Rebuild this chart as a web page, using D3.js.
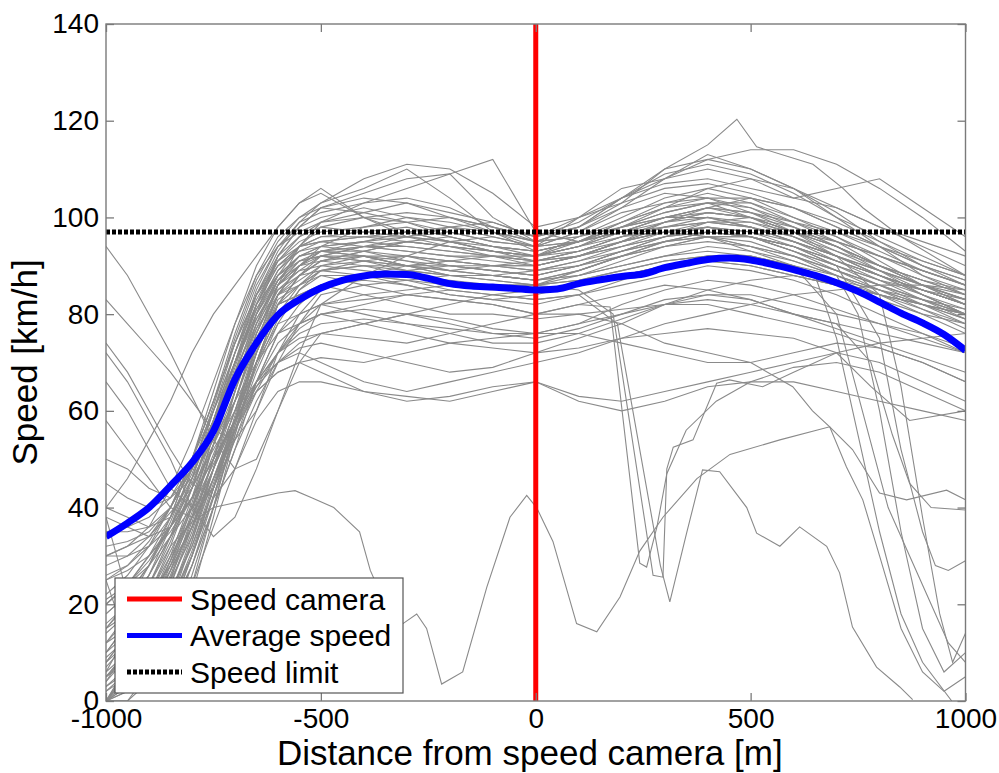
<!DOCTYPE html>
<html><head><meta charset="utf-8">
<script src="https://cdn.jsdelivr.net/npm/d3@7"></script>
<style>
body{margin:0;background:#fff}
svg{display:block}
text{font-family:Arial,"Liberation Sans",sans-serif;fill:#000}
</style></head>
<body><svg id="chart" width="999" height="773"></svg>
<script>
// ---------------- DATA ----------------
const distanceGrid = [-1000,-950,-900,-850,-800,-750,-700,-650,-600,-550,-500,-400,-300,-200,-100,0,100,200,300,400,500,600,700,800,900,1000];

const vehicleSpeeds = [
 [5,10,18,28,40,55,70,84,93,99,103,106,110,104,97,94,97,102,108,113,110,106,100,94,88,84],
 [0,3,10,20,33,48,64,80,92,98,102,105,108,109,100,95,98,103,110,112,110,106,102,98,94,90],
 [10,16,24,34,46,60,74,86,94,98,100,102,100,98,96,94,100,106,108,110,108,104,102,98,95,92],
 [20,24,30,38,50,64,78,90,98,103,105,100,97,95,93,92,96,100,104,106,104,100,96,91,86,82],
 [0,0,6,16,28,42,58,74,86,94,99,103,104,102,98,96,100,104,107,108,106,104,106,108,102,96],
 [30,32,36,44,54,66,78,88,94,97,99,101,103,100,97,93,95,99,103,105,103,99,95,90,86,83],
 [15,20,28,38,50,62,74,84,92,96,98,97,96,98,99,96,98,102,105,104,101,97,94,90,87,84],
 [3,7,14,24,36,50,64,78,88,94,98,100,99,97,95,94,97,101,103,104,102,98,94,89,84,80],
 [25,28,33,40,50,62,76,88,96,100,102,101,99,96,94,92,95,98,102,106,108,106,101,95,90,87],
 [8,14,22,32,44,58,72,85,94,99,101,103,106,109,112,97,95,97,100,102,100,97,92,88,85,82],
 [0,5,12,22,34,48,62,76,86,91,93,94,93,92,91,90,92,95,98,100,99,96,92,88,84,80],
 [12,18,26,36,48,60,72,82,88,91,92,92,91,90,89,88,90,93,96,98,97,94,90,86,82,78],
 [35,36,38,42,50,62,74,84,90,93,94,95,94,93,92,91,93,96,99,101,100,97,93,89,85,82],
 [5,9,15,24,35,48,60,72,82,88,91,93,95,94,93,92,94,97,99,100,98,95,91,87,83,79],
 [18,22,28,36,46,58,70,80,87,90,92,91,89,88,88,87,89,92,95,97,96,93,89,85,81,77],
 [0,2,8,18,30,44,58,72,84,90,93,92,90,89,90,91,93,96,97,96,94,92,89,86,83,80],
 [40,38,36,38,46,58,72,84,91,94,95,96,97,95,93,92,94,98,101,103,102,99,96,92,88,85],
 [22,26,32,40,50,60,70,79,86,90,91,90,88,86,85,86,89,92,94,95,94,91,88,84,80,76],
 [8,12,20,30,42,56,70,82,90,94,96,97,98,96,94,93,95,97,100,102,101,99,97,94,91,88],
 [2,6,13,22,33,46,58,70,80,86,89,90,90,89,88,87,88,90,92,94,93,91,88,85,82,79],
 [28,30,34,40,48,58,68,78,85,89,90,89,88,87,86,86,88,91,94,96,96,94,91,88,85,82],
 [14,18,24,33,44,57,70,82,90,94,95,94,93,92,92,91,92,94,96,97,96,93,90,87,85,83],
 [0,0,4,14,26,40,56,70,82,88,92,94,96,95,93,91,92,95,99,102,104,102,98,94,90,86],
 [45,42,40,42,48,58,70,81,88,92,93,92,90,88,87,86,87,89,91,92,91,89,86,83,80,78],
 [6,10,17,26,37,50,64,77,87,92,94,95,96,97,95,94,95,97,98,99,98,96,93,90,87,85],
 [32,33,35,40,48,58,70,80,88,92,93,93,92,90,89,88,90,93,96,99,100,98,94,90,86,82],
 [10,14,20,28,38,48,58,66,72,75,76,75,74,76,78,80,82,84,86,85,83,80,78,76,74,72],
 [20,24,30,36,44,52,60,66,70,72,70,66,64,66,68,70,72,75,78,80,82,84,85,86,86,85],
 [0,4,10,18,28,40,52,62,70,74,76,78,80,79,77,76,78,82,85,87,86,84,81,78,75,72],
 [38,36,34,36,42,50,58,65,70,73,74,72,70,68,69,72,75,78,82,85,87,88,86,84,82,80],
 [15,18,22,28,36,46,56,64,68,70,68,64,63,62,64,66,63,62,64,66,68,70,72,74,75,76],
 [5,8,14,22,32,44,56,66,74,78,80,81,80,78,76,75,77,80,83,84,83,80,77,74,71,68],
 [25,27,30,35,42,50,58,64,68,70,71,70,72,74,75,76,76,74,72,70,70,72,74,73,70,66],
 [0,2,6,14,24,36,48,58,64,66,66,64,62,63,65,66,62,60,62,65,66,66,64,62,60,58],
 [50,48,44,42,46,54,62,70,76,80,82,83,84,83,82,80,80,81,82,82,80,78,76,73,70,66],
 [12,15,20,27,36,46,56,65,72,77,80,82,84,85,84,83,84,86,88,90,89,87,84,80,76,72],
 [30,30,32,36,42,50,58,66,72,76,78,79,78,76,74,74,76,79,82,84,84,82,80,78,76,73],
 [3,6,12,20,30,42,54,64,72,78,82,84,85,86,86,85,86,88,90,92,92,90,88,85,82,79],
 [94,88,80,72,63,54,48,50,60,72,82,88,92,95,96,94,95,98,100,100,98,95,92,88,84,80],
 [83,78,73,68,62,56,54,60,70,78,84,86,87,88,88,87,88,90,92,93,92,90,87,84,81,78],
 [74,68,60,52,45,42,48,60,72,80,85,88,90,91,90,89,91,93,95,96,95,92,89,86,83,80],
 [66,60,52,44,40,44,54,66,76,82,86,88,89,90,90,89,90,92,94,96,96,94,91,88,85,82],
 [58,52,46,40,38,44,56,68,78,85,89,91,92,91,90,90,92,95,97,98,96,93,90,87,84,81],
 [72,66,58,50,40,34,38,48,60,70,76,78,80,82,84,85,86,88,90,91,90,88,86,84,82,80],
 [40,46,54,62,72,80,86,92,98,103,106,100,96,94,93,92,94,97,100,102,101,98,95,92,89,86],
 [0,6,14,25,38,53,68,82,92,98,102,104,103,101,99,96,98,104,109,111,109,105,100,96,92,88],
 [18,22,28,37,48,61,75,87,95,100,103,108,111,110,105,98,100,103,106,107,105,102,98,94,90,87],
 [7,12,19,29,41,55,69,82,91,96,99,100,101,100,98,96,99,104,108,112,114,114,111,106,100,93],
 [4,9,17,27,39,53,67,80,89,94,96,96,95,94,93,92,94,96,99,101,100,97,94,90,86,83],
 [26,28,32,38,47,58,70,81,89,93,95,96,96,95,94,93,95,98,101,103,103,100,97,93,89,86],
 [0,3,9,18,30,44,59,73,84,90,93,95,97,98,97,95,96,98,100,101,100,97,94,90,87,84],
 [16,20,26,34,44,56,68,79,87,91,92,91,90,91,92,92,93,95,97,98,97,95,92,89,86,84],
 [9,13,20,29,40,53,66,78,87,92,94,93,91,89,88,89,91,94,97,99,99,97,95,92,89,86],
 [35,35,36,40,48,60,72,83,91,95,97,98,99,100,98,95,96,99,102,104,104,102,99,95,91,88],
 [2,5,11,20,31,44,57,69,79,85,88,88,87,86,86,86,87,89,91,92,91,89,87,85,83,81],
 [21,24,29,36,45,56,67,77,84,88,89,88,86,84,83,84,86,88,90,91,90,88,86,84,82,80],
 [38,22,8,10,22,38,55,70,82,88,91,92,92,91,90,90,92,94,96,97,96,94,91,88,85,82],
 [25,12,4,10,24,40,57,72,84,90,93,94,94,93,92,91,93,96,98,99,98,95,92,89,86,83]
];

// irregular vehicles, each with its own distance samples
const outlierDistances = [
 [-1000,-950,-900,-850,-800,-750,-700,-650,-600,-560,-520,-470,-410,-385,-350,-309,-277,-254,-219,-170,-114,-60,-21,2,40,95,142,196,242,296,375,452,568,684,737,800,863,956,1000],
 [-1000,-900,-800,-700,-650,-600,-500,-400,-300,-200,-100,0,100,173,242,258,282,305,350,420,500,600,700,800,900,1000],
 [-1000,-900,-800,-700,-650,-600,-500,-400,-300,-200,-100,0,100,180,273,296,305,320,366,421,451,528,600,700,800,900,1000],
 [-1000,-900,-800,-700,-650,-600,-500,-400,-300,-200,-100,0,100,190,290,312,351,388,428,491,514,568,614,677,707,737,793,847,877],
 [-1000,-900,-800,-700,-650,-600,-500,-400,-300,-200,-100,0,100,200,300,400,500,598,644,684,723,761,800,850,900,950,1000],
 [-1000,-900,-800,-700,-650,-600,-500,-400,-300,-200,-100,0,100,200,300,400,500,600,650,700,750,800,850,900,968],
 [-1000,-900,-800,-700,-650,-600,-500,-400,-300,-200,-100,0,100,200,300,400,500,600,700,750,800,850,900,950,1000],
 [-1000,-900,-800,-700,-650,-600,-500,-400,-300,-200,-100,0,100,200,300,400,500,600,700,800,850,900,940,970,1000],
 [-1000,-900,-800,-700,-650,-600,-500,-400,-300,-200,-100,0,100,200,300,400,500,600,700,800,850,900,930,960,1000],
 [-1000,-900,-800,-700,-650,-600,-500,-400,-300,-200,-100,0,100,200,300,400,500,600,700,760,820,870,920,960,1000],
 [-1000,-900,-800,-700,-650,-600,-500,-400,-300,-200,-100,0,100,200,300,400,500,600,700,780,830,870,920,1000],
 [-1000,-900,-800,-700,-650,-600,-500,-400,-300,-200,-100,0,100,200,300,400,500,600,700,780,870,1000],
 [-1000,-900,-800,-700,-650,-600,-500,-400,-300,-200,-100,0,100,200,300,400,468,514,645,715,761,850,1000]
];
const outlierSpeeds = [
 [6,14,24,32,37,40,41,42,43,43.5,42,40,35,27,20,16,18,15,3.5,6,23.5,38,42.5,40,33,16,14.3,21.5,31,38,46,51,54,56.7,52,43,41.6,43.6,41.6],
 [10,22,40,62,75,84,88,86,84,83,82,80,82,81.5,28.5,27.7,36,47,56,62,66,69,70,68,64,60],
 [0,15,36,60,74,84,90,92,90,88,87,86,85,80,26,25.6,48,52.5,54,65.7,66.4,65,68,72,70,66,62],
 [20,28,40,58,70,80,86,88,87,85,84,83,84,78,28,20.5,34.7,47.8,47.4,40,34.7,32,36,32,26.5,15.3,7,2.9,0.3],
 [4,18,36,60,72,82,86,84,82,80,80,79,80,78,74,72,70,65,60,56.7,48.4,41.6,30,15,6,2,5],
 [8,20,38,62,76,86,92,94,95,94,92,90,92,95,97,96,93,90,88,75,55,35,18,8,0],
 [0,12,30,55,70,82,90,91,90,90,89,88,90,93,95,96,94,92,88,80,60,35,15,6,10],
 [15,26,42,64,76,85,91,93,95,96,94,93,95,99,102,103,100,96,92,84,65,38,18,8,14],
 [5,16,34,58,72,83,89,90,89,88,88,87,89,92,95,97,96,94,90,75,52,35,28,27,29],
 [30,34,44,62,74,82,86,87,86,84,83,82,84,87,90,92,92,90,80,60,40,30,20,12,8],
 [12,22,38,58,70,78,82,80,78,77,76,76,78,80,82,83,82,80,78,70,55,45,40,39.5],
 [0,10,28,52,66,76,80,78,76,74,73,72,73,75,76,77,76,75,72,65,58,60],
 [0,14,32,58,74,86,94,98,100,99,97,95,98,104,110,115,120.3,114.6,111,106,102,96,88]
];

const avgDistance = [-1000,-950,-900,-850,-800,-750,-700,-650,-600,-550,-500,-450,-400,-350,-300,-250,-200,-150,-100,-50,0,50,100,150,200,250,300,350,400,450,500,550,600,650,700,750,800,850,900,950,1000];
const avgSpeed = [34,36.8,40,44.5,49.3,55.8,66.5,74,79.8,83,85.4,87,87.9,88.3,88.2,87.4,86.3,85.8,85.6,85.3,85,85.2,86.3,87.1,87.8,88.3,89.6,90.5,91.3,91.6,91.2,90.3,89.2,88,86.5,84.7,82.5,80.2,78.2,75.8,72.5];

const speedLimit = 97;
const cameraPosition = 0;
const xTicks = [-1000,-500,0,500,1000];
const yTicks = [0,20,40,60,80,100,120,140];
const legendLabels = ["Speed camera","Average speed","Speed limit"];
const xTitle = "Distance from speed camera [m]";
const yTitle = "Speed [km/h]";

// ---------------- DRAW ----------------
const svg = d3.select("#chart");
const L = 106, R = 965.5, T = 24, B = 701;
const x = d3.scaleLinear().domain([-1000,1000]).range([L,R]);
const y = d3.scaleLinear().domain([0,140]).range([B,T]);

svg.append("defs").append("clipPath").attr("id","plotclip")
  .append("rect").attr("x",L).attr("y",T).attr("width",R-L).attr("height",B-T);

const g = svg.append("g").attr("clip-path","url(#plotclip)");
const line = d3.line().x(d=>x(d[0])).y(d=>y(d[1]));

const gray = "#8a8a8a";
vehicleSpeeds.forEach(vs=>{
  g.append("path").attr("d", line(distanceGrid.map((d,i)=>[d,vs[i]])))
   .attr("fill","none").attr("stroke",gray).attr("stroke-width",1.1);
});
outlierDistances.forEach((xs,k)=>{
  g.append("path").attr("d", line(xs.map((d,i)=>[d,outlierSpeeds[k][i]])))
   .attr("fill","none").attr("stroke",gray).attr("stroke-width",1.1);
});

// camera line
g.append("line").attr("x1",x(cameraPosition)).attr("x2",x(cameraPosition))
 .attr("y1",y(0)).attr("y2",y(140)).attr("stroke","#ff0000").attr("stroke-width",5);

// average
const avgLine = d3.line().x(d=>x(d[0])).y(d=>y(d[1])).curve(d3.curveMonotoneX);
g.append("path").attr("d", avgLine(avgDistance.map((d,i)=>[d,avgSpeed[i]])))
 .attr("fill","none").attr("stroke","#0000ff").attr("stroke-width",7);

// speed limit
g.append("line").attr("x1",x(-1000)).attr("x2",x(1000))
 .attr("y1",y(speedLimit)).attr("y2",y(speedLimit))
 .attr("stroke","#000").attr("stroke-width",5).attr("stroke-dasharray","4,2");

// axes
const axisColor = "#7a7a7a";
const fmt = d => String(d);
const xAxis = svg.append("g").attr("transform",`translate(0,${B})`)
  .call(d3.axisBottom(x).tickValues(xTicks).tickSizeInner(-8).tickSizeOuter(0).tickPadding(7).tickFormat(fmt));
const yAxis = svg.append("g").attr("transform",`translate(${L},0)`)
  .call(d3.axisLeft(y).tickValues(yTicks).tickSizeInner(-8).tickSizeOuter(0).tickPadding(7).tickFormat(fmt));
const xTop = svg.append("g").attr("transform",`translate(0,${T})`)
  .call(d3.axisTop(x).tickValues(xTicks).tickSizeInner(-8).tickSizeOuter(0).tickFormat(""));
const yRight = svg.append("g").attr("transform",`translate(${R},0)`)
  .call(d3.axisRight(y).tickValues(yTicks).tickSizeInner(-8).tickSizeOuter(0).tickFormat(""));
[xAxis,yAxis,xTop,yRight].forEach(a=>{
  a.select(".domain").remove();
  a.selectAll(".tick line").attr("stroke",axisColor).attr("stroke-width",1.3);
  a.selectAll(".tick text").attr("font-size",28).attr("fill","#000")
   .attr("font-family",'Arial,"Liberation Sans",sans-serif');
});
svg.append("rect").attr("x",L).attr("y",T).attr("width",R-L).attr("height",B-T)
  .attr("fill","none").attr("stroke",axisColor).attr("stroke-width",1.4);

// titles
svg.append("text").attr("x",(L+R)/2 - 6).attr("y",765).attr("text-anchor","middle")
  .attr("font-size",35).text(xTitle);
svg.append("text").attr("transform",`translate(37,${(T+B)/2}) rotate(-90)`)
  .attr("text-anchor","middle").attr("font-size",35).text(yTitle);

// legend
const lg = svg.append("g");
lg.append("rect").attr("x",115).attr("y",578).attr("width",288).attr("height",115)
  .attr("fill","#fff").attr("stroke","#555").attr("stroke-width",1.2);
const legStyles = [
  {c:"#ff0000",w:5,dash:null},
  {c:"#0000ff",w:5,dash:null},
  {c:"#000",w:5,dash:"4,2"}
];
legendLabels.forEach((t,i)=>{
  const yy = 599 + i*36.5;
  const ln = lg.append("line").attr("x1",127).attr("x2",182).attr("y1",yy).attr("y2",yy)
    .attr("stroke",legStyles[i].c).attr("stroke-width",legStyles[i].w);
  if(legStyles[i].dash) ln.attr("stroke-dasharray",legStyles[i].dash);
  lg.append("text").attr("x",190).attr("y",yy+10.5).attr("font-size",30).text(t);
});
</script>
</body></html>
